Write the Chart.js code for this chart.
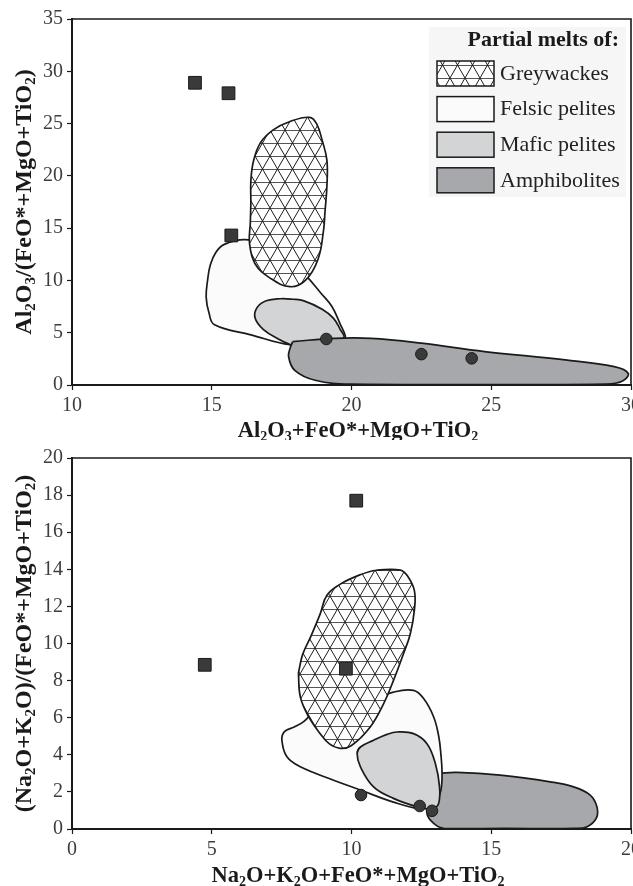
<!DOCTYPE html>
<html>
<head>
<meta charset="utf-8">
<script src="https://cdn.jsdelivr.net/npm/chart.js@4.4.1/dist/chart.umd.min.js"></script>
<style>
  html, body { margin: 0; padding: 0; background: #fff; overflow: hidden; }
  #wrap { position: relative; width: 633px; height: 886px; overflow: hidden; }
  /* a little wider than the page so the last x label may hang off the edge */
  .box { position: absolute; left: 0; width: 645px; }
  #topBox { top: 0; height: 440px; }
  #bottomBox { top: 440px; height: 446px; }
</style>
</head>
<body>
<div id="wrap">
  <div class="box" id="topBox"><canvas id="chartA"></canvas></div>
  <div class="box" id="bottomBox"><canvas id="chartB"></canvas></div>
</div>
<script>
// ---- upper diagram: Al2O3/(FeO*+MgO+TiO2) vs Al2O3+FeO*+MgO+TiO2 ----
var xTicksA = [10, 15, 20, 25, 30];
var yTicksA = [0, 5, 10, 15, 20, 25, 30, 35];
var squaresA = [[14.4, 28.9], [15.6, 27.9], [15.7, 14.3]];
var circlesA = [[19.1, 4.4], [22.5, 2.95], [24.3, 2.55]];
var greyA = [[16.4, 17.5], [16.4, 19.6], [16.5, 21.5], [16.75, 23.2], [17.2, 24.4], [17.8, 25.2], [18.5, 25.6],
  [18.75, 25.0], [18.95, 23.4], [19.12, 21.5], [19.12, 19.0], [19.05, 16.5], [19.0, 14.8], [18.8, 12.0],
  [18.35, 10.0], [17.8, 9.4], [17.1, 10.2], [16.55, 11.6], [16.35, 13.6], [16.38, 15.5]];
var felsicA = [[19.75, 4.3], [18.8, 4.0], [17.8, 3.85], [16.4, 4.8], [15.1, 5.75], [14.9, 6.9], [14.8, 8.4],
  [14.85, 10.0], [14.95, 11.5], [15.15, 12.7], [15.45, 13.45], [16.2, 13.9], [17.0, 13.3], [18.0, 11.2],
  [18.35, 10.5], [18.9, 8.8], [19.3, 7.5], [19.6, 5.8], [19.78, 4.7]];
var maficA = [[17.82, 3.85], [17.45, 4.3], [16.85, 5.3], [16.55, 6.4], [16.62, 7.4], [16.95, 8.05], [17.45, 8.25],
  [17.9, 8.2], [18.3, 8.05], [18.95, 7.25], [19.35, 6.4], [19.58, 5.4], [19.72, 4.5], [19.0, 4.3], [18.3, 4.05]];
var amphA = [[17.9, 4.15], [19.4, 4.46], [20.7, 4.46], [22.5, 4.0], [24.76, 3.2], [27.65, 2.4], [29.4, 1.75],
  [29.9, 1.1], [29.68, 0.35], [29.1, 0.08], [25.0, 0.05], [20.0, 0.08], [18.7, 0.45], [17.97, 1.4],
  [17.75, 2.7], [17.82, 3.65]];

// ---- lower diagram: (Na2O+K2O)/(FeO*+MgO+TiO2) vs Na2O+K2O+FeO*+MgO+TiO2 ----
var xTicksB = [0, 5, 10, 15, 20];
var yTicksB = [0, 2, 4, 6, 8, 10, 12, 14, 16, 18, 20];
var squaresB = [[4.75, 8.85], [10.17, 17.7], [9.8, 8.64]];
var circlesB = [[10.34, 1.83], [12.44, 1.24], [12.88, 0.98]];
var greyB = [[8.1, 8.4], [8.25, 9.4], [8.55, 10.4], [8.88, 11.6], [9.12, 12.6], [9.6, 13.2], [10.3, 13.7],
  [10.9, 13.95], [11.75, 13.96], [12.0, 13.65], [12.25, 12.85], [12.25, 11.8], [12.1, 10.5], [11.86, 9.45],
  [11.5, 8.0], [11.15, 6.76], [10.67, 5.5], [10.0, 4.5], [9.6, 4.35], [9.2, 4.6], [8.88, 5.14], [8.47, 6.04],
  [8.17, 7.11]];
var felsicB = [[8.6, 6.3], [9.6, 6.0], [10.6, 6.9], [11.5, 7.38], [12.22, 7.47], [12.58, 7.03], [12.94, 6.04],
  [13.12, 5.0], [13.2, 4.0], [13.24, 3.0], [13.2, 2.1], [13.06, 1.56], [12.82, 1.2], [12.4, 1.1], [11.5, 1.45],
  [10.32, 2.1], [9.36, 2.63], [8.17, 3.35], [7.69, 3.89], [7.51, 4.78], [7.6, 5.25], [7.95, 5.5], [8.3, 5.8]];
var maficB = [[12.94, 1.02], [12.34, 1.2], [11.5, 1.65], [10.79, 2.27], [10.32, 3.35], [10.2, 4.07], [10.32, 4.42],
  [10.79, 4.78], [11.27, 5.1], [11.63, 5.23], [12.22, 5.14], [12.7, 4.6], [13.0, 3.53], [13.15, 2.27], [13.12, 1.38]];
var amphB = [[13.12, 3.0], [13.77, 3.05], [15.32, 2.9], [17.11, 2.54], [17.95, 2.27], [18.54, 1.83], [18.78, 1.2],
  [18.76, 0.58], [18.43, 0.12], [18.0, 0.03], [15.5, 0.03], [13.3, 0.03], [12.94, 0.3], [12.7, 0.84],
  [12.85, 1.6], [13.05, 2.4]];

var legendTitle = 'Partial melts of:';
var legendLabels = ['Greywackes', 'Felsic pelites', 'Mafic pelites', 'Amphibolites'];

var SERIF = '"Liberation Serif", "Times New Roman", serif';
var INK = '#1a1a1a';

// triangular hatch used for the greywacke field
function makeHatch() {
  var c = document.createElement('canvas');
  c.width = 15; c.height = 26;
  var g = c.getContext('2d');
  g.fillStyle = '#fff';
  g.fillRect(0, 0, 15, 26);
  g.lineWidth = 1;
  g.strokeStyle = '#555';
  g.beginPath();
  g.moveTo(0, 0.5); g.lineTo(15, 0.5);
  g.moveTo(0, 13.5); g.lineTo(15, 13.5);
  g.stroke();
  g.strokeStyle = '#1e1e1e';
  g.beginPath();
  [-15, 0, 15].forEach(function (dx) {
    g.moveTo(dx, 0); g.lineTo(dx + 15, 26);
    g.moveTo(dx + 15, 0); g.lineTo(dx, 26);
  });
  g.stroke();
  return g.createPattern(c, 'repeat');
}
var hatch = makeHatch();

var fills = {
  'Greywackes': hatch,
  'Felsic pelites': '#fbfbfb',
  'Mafic pelites': '#d3d4d6',
  'Amphibolites': '#a7a8ab'
};

function toXY(arr) {
  return arr.map(function (p) { return { x: p[0], y: p[1] }; });
}

function field(label, pts, order) {
  var data = toXY(pts.concat([pts[0]]));
  return {
    label: label, data: data, showLine: true, fill: 'shape', tension: 0.4,
    backgroundColor: fills[label], borderColor: INK, borderWidth: 1.7,
    pointRadius: 0, pointHoverRadius: 0, order: order
  };
}

function markers(label, pts, style, r) {
  return {
    label: label, data: toXY(pts), showLine: false, pointStyle: style,
    pointRadius: r, pointHoverRadius: r, backgroundColor: '#3a3a3a',
    borderColor: INK, borderWidth: 1, order: 0
  };
}

// axis titles with subscript digits, "_2" -> subscript 2
function splitFormula(text) {
  var parts = [], buf = '';
  for (var i = 0; i < text.length; i++) {
    if (text[i] === '_') {
      if (buf) parts.push({ t: buf, sub: false });
      buf = '';
      parts.push({ t: text[i + 1], sub: true });
      i++;
    } else {
      buf += text[i];
    }
  }
  if (buf) parts.push({ t: buf, sub: false });
  return parts;
}

function drawFormula(ctx, text, cx, cy, angle, size) {
  var parts = splitFormula(text);
  var big = 'bold ' + size + 'px ' + SERIF, small = 'bold ' + Math.round(size * 0.62) + 'px ' + SERIF;
  var w = 0;
  parts.forEach(function (p) {
    ctx.font = p.sub ? small : big;
    p.w = ctx.measureText(p.t).width;
    w += p.w;
  });
  ctx.save();
  ctx.translate(cx, cy);
  ctx.rotate(angle);
  ctx.fillStyle = INK;
  ctx.textBaseline = 'alphabetic';
  ctx.textAlign = 'left';
  var x = -w / 2;
  parts.forEach(function (p) {
    ctx.font = p.sub ? small : big;
    ctx.fillText(p.t, x, p.sub ? 11 : 7);
    x += p.w;
  });
  ctx.restore();
}

function framePlugin(xTitle, yTitle, xTitleY) {
  return {
    id: 'frameTitles',
    afterDraw: function (chart) {
      var ctx = chart.ctx, a = chart.chartArea;
      ctx.save();
      ctx.strokeStyle = INK;
      ctx.lineWidth = 1.6;
      ctx.beginPath();
      ctx.moveTo(a.left, a.top); ctx.lineTo(a.right, a.top); ctx.lineTo(a.right, a.bottom);
      ctx.stroke();
      ctx.restore();
      drawFormula(ctx, xTitle, 358, xTitleY, 0, 22.5);
      drawFormula(ctx, yTitle, 24, (a.top + a.bottom) / 2, -Math.PI / 2, 24);
    }
  };
}

var legendPlugin = {
  id: 'fieldLegend',
  afterDraw: function (chart) {
    var ctx = chart.ctx, a = chart.chartArea;
    var right = a.right - 5, top = a.top + 8, left = right - 197;
    ctx.save();
    ctx.fillStyle = '#f6f6f6';
    ctx.fillRect(left, top, right - left, 170);
    ctx.fillStyle = INK;
    ctx.font = 'bold 22px ' + SERIF;
    ctx.textAlign = 'right';
    ctx.textBaseline = 'middle';
    ctx.fillText(legendTitle, right - 7, top + 13);
    ctx.textAlign = 'left';
    ctx.font = '22px ' + SERIF;
    legendLabels.forEach(function (lab, i) {
      var sy = top + 34 + i * 35.6;
      ctx.fillStyle = fills[lab];
      ctx.fillRect(left + 8, sy, 57, 25);
      ctx.strokeStyle = INK;
      ctx.lineWidth = 1.5;
      ctx.strokeRect(left + 8, sy, 57, 25);
      ctx.fillStyle = '#222';
      ctx.fillText(lab, left + 71, sy + 13);
    });
    ctx.restore();
  }
};

function axis(ticks, stepSize, fixedSize, isX) {
  return {
    type: 'linear',
    min: ticks[0], max: ticks[ticks.length - 1],
    afterBuildTicks: function (scale) {
      scale.ticks = ticks.map(function (v) { return { value: v }; });
    },
    afterFit: function (scale) {
      if (isX) { scale.height = fixedSize; }
      else { scale.width = fixedSize; }
    },
    border: { display: true, color: INK, width: 2 },
    grid: { drawOnChartArea: false, drawTicks: true, tickLength: 5, color: INK, tickWidth: 1.2 },
    ticks: { stepSize: stepSize, color: '#3d3d3d', padding: 4, font: { family: SERIF, size: 20 }, maxRotation: 0 }
  };
}

function baseOptions(pad, xs, ys) {
  return {
    responsive: true, maintainAspectRatio: false, animation: false,
    layout: { padding: pad },
    plugins: { legend: { display: false }, tooltip: { enabled: false } },
    scales: { x: xs, y: ys }
  };
}

new Chart(document.getElementById('chartA').getContext('2d'), {
  type: 'scatter',
  data: {
    datasets: [
      markers('Squares', squaresA, 'rect', 9),
      markers('Circles', circlesA, 'circle', 5.8),
      field('Greywackes', greyA, 1),
      field('Amphibolites', amphA, 2),
      field('Mafic pelites', maficA, 3),
      field('Felsic pelites', felsicA, 4)
    ]
  },
  options: baseOptions({ top: 19, right: 0, left: 0, bottom: 0 },
    axis(xTicksA, 5, 55, true), axis(yTicksA, 5, 72, false)),
  plugins: [framePlugin('Al_2O_3+FeO*+MgO+TiO_2', 'Al_2O_3/(FeO*+MgO+TiO_2)', 430), legendPlugin]
});

new Chart(document.getElementById('chartB').getContext('2d'), {
  type: 'scatter',
  data: {
    datasets: [
      markers('Squares', squaresB, 'rect', 9),
      markers('Circles', circlesB, 'circle', 5.8),
      field('Greywackes', greyB, 1),
      field('Mafic pelites', maficB, 2),
      field('Felsic pelites', felsicB, 3),
      field('Amphibolites', amphB, 4)
    ]
  },
  options: baseOptions({ top: 18, right: 0, left: 0, bottom: 0 },
    axis(xTicksB, 5, 57, true), axis(yTicksB, 2, 72, false)),
  plugins: [framePlugin('Na_2O+K_2O+FeO*+MgO+TiO_2', '(Na_2O+K_2O)/(FeO*+MgO+TiO_2)', 435)]
});
</script>
</body>
</html>
